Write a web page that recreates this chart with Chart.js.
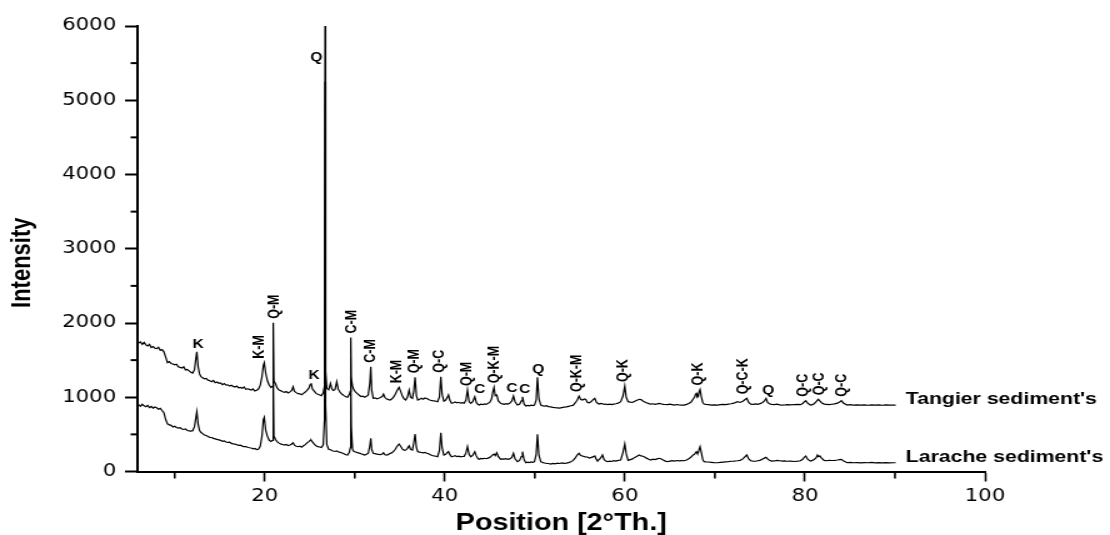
<!DOCTYPE html>
<html>
<head>
<meta charset="utf-8">
<title>XRD patterns</title>
<script src="https://cdn.jsdelivr.net/npm/chart.js@4.4.1/dist/chart.umd.min.js"></script>
<style>
  html, body { margin: 0; padding: 0; background: #fff; overflow: hidden; }
  /* the plot is laid out on a narrower canvas and widened, which gives the wide lettering */
  #frame { width: 888px; height: 535px; transform: scale(1.25, 1); transform-origin: 0 0; }
</style>
</head>
<body>
<div id="frame"><canvas id="chart" width="888" height="535"></canvas></div>
<script>
// diffraction angle (°2θ), shared by both scans
const twoTheta = [
  6.0, 6.2, 6.4, 6.6, 6.8, 7.0, 7.2, 7.4, 7.6, 7.8, 8.0, 8.2, 8.4, 8.6, 8.8, 9.0,
  9.2, 9.4, 9.6, 9.8, 10.0, 10.2, 10.4, 10.6, 10.8, 11.0, 11.2, 11.4, 11.6, 11.8, 12.0,
  12.2, 12.35, 12.46, 12.6, 12.75, 12.9, 13.1, 13.3, 13.5, 13.7, 13.9, 14.1, 14.3, 14.5, 14.7, 14.9, 15.1, 15.3, 15.5, 15.7, 15.9, 16.1, 16.3, 16.5, 16.7, 16.9, 17.1, 17.3, 17.5, 17.7, 17.9, 18.1, 18.3, 18.5, 18.7, 18.9, 19.1, 19.3,
  19.5, 19.7, 19.85, 19.95, 20.1, 20.3, 20.5, 20.7, 20.88, 20.95, 21.02,
  21.2, 21.4, 21.6, 21.8, 22.0, 22.2, 22.4, 22.6, 22.8, 23.0, 23.15, 23.3, 23.5, 23.7, 23.9, 24.1, 24.3, 24.5, 24.7, 24.9, 25.05, 25.15, 25.3, 25.5, 25.7, 25.9, 26.1, 26.3, 26.5,
  26.64, 26.7, 26.76, 26.9, 27.1, 27.3, 27.45, 27.6, 27.8, 28.0, 28.15, 28.4, 28.6, 28.8, 29.0, 29.2, 29.4,
  29.5, 29.56, 29.62, 29.75, 29.9, 30.1, 30.3, 30.5, 30.7, 30.9, 31.1, 31.3, 31.5, 31.68, 31.78, 31.88, 32.05, 32.25, 32.45, 32.65, 32.85, 33.05, 33.19, 33.35, 33.55, 33.75, 33.93,
  34.1, 34.3, 34.5, 34.7, 34.92, 35.1, 35.3, 35.5, 35.67, 35.85, 36.04, 36.2, 36.4, 36.55, 36.7, 36.85, 37.0, 37.2, 37.4, 37.6, 37.8, 38.0, 38.2, 38.4, 38.6, 38.8, 39.0, 39.2, 39.4,
  39.56, 39.7, 39.9, 40.1, 40.3, 40.41, 40.55, 40.75, 40.95, 41.15, 41.35, 41.55, 41.75, 41.95, 42.15, 42.35, 42.52, 42.7, 42.89, 43.1, 43.33, 43.5, 43.7, 43.81, 44.0, 44.2, 44.4, 44.6, 44.8, 45.0,
  45.2, 45.35, 45.47, 45.6, 45.77, 45.95, 46.2, 46.4, 46.6, 46.8, 47.0, 47.2, 47.45, 47.63, 47.8, 48.07, 48.3, 48.5, 48.63, 48.8, 49.0, 49.2, 49.4, 49.6, 49.8, 49.96, 50.15,
  50.29, 50.45, 50.66, 50.9, 51.1, 51.3, 51.5, 51.77, 52.0, 52.25, 52.5, 52.75, 53.0, 53.25, 53.5, 53.75, 54.0, 54.25, 54.45, 54.7, 54.91, 55.1, 55.29, 55.5, 55.66, 55.85, 56.05,
  56.3, 56.5, 56.66, 56.85, 56.96, 57.15, 57.35, 57.51, 57.7, 57.9, 58.07, 58.3, 58.5, 58.75, 59.0, 59.25, 59.54, 59.8, 59.99, 60.15, 60.36, 60.6, 60.85, 61.1,
  61.35, 61.58, 61.8, 62.0, 62.14, 62.4, 62.65, 62.88, 63.1, 63.35, 63.6, 63.8, 63.99, 64.25, 64.5, 64.73, 65.0, 65.25, 65.5, 65.75, 66.0, 66.3, 66.57, 66.85, 67.1,
  67.35, 67.55, 67.76, 67.85, 67.95, 68.05, 68.15, 68.25, 68.35, 68.5, 68.65, 68.79, 69.0, 69.3, 69.6, 69.9, 70.28, 70.6, 70.9, 71.2, 71.5, 71.8, 72.1, 72.5, 72.8, 73.1,
  73.35, 73.54, 73.75, 73.98, 74.25, 74.5, 74.75, 75.0, 75.25, 75.5, 75.68, 75.85, 76.05, 76.3, 76.6, 76.9, 77.2, 77.5, 77.7, 78.0, 78.4, 78.8, 79.2, 79.5,
  79.75, 79.95, 80.09, 80.3, 80.6, 80.85, 81.05, 81.25, 81.39, 81.5, 81.65, 81.85, 82.13, 82.4, 82.7, 83.0, 83.3, 83.6, 83.85, 84.05, 84.3, 84.7,
  85.0, 85.4, 85.8, 86.2, 86.6, 87.0, 87.4, 87.8, 88.2, 88.6, 89.0, 89.4, 89.8, 90.08
];

// counts, Tangier sediment (offset scan)
const tangier = [
  1730, 1745, 1712, 1738, 1705, 1690, 1712, 1670, 1684, 1660, 1655, 1672, 1630, 1642, 1612, 1540,
  1466, 1480, 1455, 1448, 1436, 1445, 1410, 1402, 1392, 1410, 1368, 1374, 1356, 1338, 1326,
  1372, 1520, 1612, 1418, 1318, 1282, 1262, 1248, 1254, 1230, 1222, 1210, 1228, 1196, 1206, 1188, 1194, 1170, 1184, 1164, 1168, 1150, 1162, 1146, 1138, 1150, 1126, 1132, 1120, 1138, 1108, 1114, 1106, 1096, 1112, 1084, 1094, 1110,
  1160, 1282, 1430, 1465, 1330, 1222, 1162, 1132, 1150, 2003, 1220,
  1182, 1122, 1096, 1086, 1074, 1066, 1078, 1058, 1072, 1092, 1141, 1078, 1062, 1048, 1046, 1034, 1052, 1070, 1092, 1122, 1170, 1190, 1110, 1082, 1052, 1040, 1030, 1022, 1060,
  1150, 6000, 1350, 1120, 1100, 1187, 1118, 1092, 1102, 1209, 1112, 1062, 1040, 1022, 1007, 1000, 1040,
  1080, 1806, 1250, 1150, 1100, 1068, 1048, 1026, 1010, 1016, 1000, 1012, 1032, 1200, 1411, 1100, 986, 992, 980, 986, 996, 1010, 1042, 996, 976, 968, 962,
  976, 1002, 1040, 1090, 1133, 1080, 1012, 976, 962, 1002, 1097, 1002, 985, 1080, 1268, 1020, 962, 972, 986, 974, 990, 984, 970, 960, 954, 950, 946, 940, 1000,
  1276, 1040, 946, 962, 1002, 1030, 962, 920, 926, 936, 924, 932, 920, 926, 918, 962, 1097, 940, 918, 940, 1007, 930, 902, 895, 906, 900, 910, 904, 918, 930,
  980, 1080, 1133, 1020, 1030, 950, 918, 910, 904, 914, 908, 918, 950, 1016, 940, 895, 906, 950, 1007, 910, 882, 890, 884, 894, 888, 895, 960,
  1268, 980, 895, 884, 880, 886, 874, 870, 864, 860, 858, 854, 860, 866, 870, 878, 886, 890, 920, 960, 1016, 970, 962, 976, 970, 930, 924,
  946, 970, 985, 930, 920, 908, 916, 912, 904, 908, 900, 906, 900, 908, 912, 920, 940, 1020, 1151, 1000, 940, 934, 930, 946,
  960, 972, 968, 950, 940, 926, 914, 908, 912, 904, 910, 916, 912, 904, 902, 900, 906, 900, 894, 902, 898, 894, 895, 904, 916,
  936, 970, 1007, 1040, 1052, 1000, 1010, 1080, 1106, 1000, 930, 908, 904, 900, 894, 898, 895, 900, 904, 902, 908, 912, 920, 940, 930, 946,
  970, 985, 930, 908, 904, 910, 904, 914, 926, 950, 985, 930, 912, 904, 900, 906, 898, 894, 896, 900, 898, 902, 904, 900,
  916, 940, 953, 920, 895, 900, 916, 940, 960, 972, 950, 926, 908, 904, 900, 906, 910, 920, 936, 953, 920, 895,
  900, 895, 898, 893, 897, 892, 896, 893, 897, 892, 896, 893, 895, 895
];

// counts, Larache sediment
const larache = [
  900, 878, 905, 884, 872, 890, 860, 876, 852, 868, 858, 838, 850, 822, 792, 700,
  642, 628, 622, 600, 610, 592, 584, 590, 572, 566, 574, 552, 548, 544, 550,
  604, 722, 805, 642, 556, 528, 510, 492, 484, 470, 460, 458, 446, 440, 432, 426, 420, 406, 412, 398, 392, 394, 378, 372, 368, 360, 352, 356, 342, 336, 334, 326, 320, 316, 306, 310, 296, 300,
  340, 480, 700, 730, 560, 472, 420, 404, 420, 1250, 480,
  430, 398, 382, 368, 364, 356, 364, 348, 356, 370, 386, 354, 340, 334, 342, 328, 346, 362, 386, 402, 418, 424, 398, 368, 346, 334, 330, 324, 358,
  700, 5250, 900, 360, 300, 292, 282, 276, 270, 278, 266, 258, 250, 240, 226, 222, 260,
  320, 1260, 600, 300, 268, 262, 254, 248, 240, 230, 222, 232, 246, 350, 447, 300, 245, 240, 234, 230, 226, 236, 252, 226, 222, 230, 245,
  250, 270, 300, 340, 370, 340, 300, 286, 289, 312, 347, 300, 289, 380, 505, 320, 267, 260, 256, 250, 256, 246, 240, 226, 216, 210, 206, 199, 280,
  522, 320, 222, 232, 256, 267, 230, 199, 205, 212, 200, 206, 198, 202, 204, 250, 334, 230, 199, 216, 267, 210, 170, 164, 176, 170, 178, 172, 180, 190,
  210, 226, 235, 214, 253, 200, 164, 170, 166, 172, 164, 170, 190, 245, 170, 132, 150, 200, 267, 160, 118, 126, 120, 130, 124, 132, 230,
  500, 220, 132, 120, 114, 110, 108, 101, 110, 104, 112, 108, 116, 110, 112, 120, 130, 150, 176, 220, 245, 216, 209, 200, 196, 195, 180,
  190, 200, 209, 160, 145, 160, 190, 222, 160, 140, 132, 140, 135, 145, 140, 150, 155, 260, 370, 240, 150, 160, 170, 190,
  205, 222, 210, 205, 199, 180, 165, 155, 165, 160, 170, 178, 172, 155, 140, 132, 140, 145, 140, 148, 142, 146, 145, 155, 170,
  195, 220, 235, 255, 267, 245, 250, 300, 334, 250, 160, 132, 130, 128, 124, 120, 118, 122, 126, 130, 132, 138, 140, 145, 150, 170,
  200, 222, 170, 145, 140, 138, 145, 150, 165, 180, 191, 170, 150, 140, 142, 150, 145, 140, 142, 138, 140, 135, 140, 145,
  165, 195, 209, 165, 140, 150, 165, 185, 222, 200, 210, 180, 150, 145, 150, 148, 150, 155, 160, 164, 140, 118,
  122, 118, 120, 116, 120, 118, 122, 117, 120, 116, 119, 117, 118, 118
];

const seriesNames = ["Tangier sediment's", "Larache sediment's"];

// phase labels over the Tangier reflections (Q quartz, K kaolinite, C calcite, M muscovite)
const peakNames = ['K', 'K-M', 'Q-M', 'K', 'Q', 'C-M', 'C-M', 'K-M', 'Q-M', 'Q-C', 'Q-M', 'C', 'Q-K-M', 'C', 'C', 'Q',
  'Q-K-M', 'Q-K', 'Q-K', 'Q-C-K', 'Q', 'Q-C', 'Q-C', 'Q-C'];
const peakAngles = [12.6, 19.46, 21.06, 25.49, 26.7, 29.67, 31.7, 34.75, 36.67, 39.44, 42.44, 43.88, 45.55, 47.44, 48.88, 50.38,
  54.66, 59.88, 68.09, 73.2, 75.92, 79.81, 81.64, 84.09];

// unlabelled minor tick positions
const minorX = [10, 30, 50, 70, 90];
const minorY = [500, 1500, 2500, 3500, 4500, 5500];

const tickFont = { family: "'DejaVu Sans', sans-serif", size: 17 };
const boldFamily = "'Liberation Sans', Arial, sans-serif";

const annotate = {
  id: 'annotate',
  afterDraw(chart) {
    const { ctx, chartArea: area, scales: { x, y } } = chart;
    ctx.save();
    ctx.strokeStyle = '#000';

    // short minor ticks
    ctx.lineWidth = 1.6;
    minorX.forEach((v) => {
      const px = x.getPixelForValue(v);
      ctx.beginPath();
      ctx.moveTo(px, area.bottom);
      ctx.lineTo(px, area.bottom + 7);
      ctx.stroke();
    });
    ctx.lineWidth = 2;
    minorY.forEach((v) => {
      const py = y.getPixelForValue(v);
      ctx.beginPath();
      ctx.moveTo(area.left, py);
      ctx.lineTo(area.left - 5.5, py);
      ctx.stroke();
    });

    // peak labels, sat just above the highest Tangier count near each one
    ctx.fillStyle = '#000';
    ctx.font = 'bold 12.5px ' + boldFamily;
    peakNames.forEach((name, i) => {
      const a = peakAngles[i];
      let top = 0;
      twoTheta.forEach((t, j) => {
        if (Math.abs(t - a) <= 0.6) top = Math.max(top, tangier[j]);
      });
      const px = x.getPixelForValue(a);
      const base = y.getPixelForValue(top) - 4;
      if (name.includes('-')) {
        ctx.save();
        ctx.translate(px, base);
        ctx.rotate(-Math.PI / 2);
        ctx.textAlign = 'left';
        ctx.textBaseline = 'middle';
        ctx.fillText(name, 0, 0);
        ctx.restore();
      } else if (base - 9 < area.top) {
        // the spike runs off the top, so the letter goes beside it
        ctx.textAlign = 'right';
        ctx.textBaseline = 'alphabetic';
        ctx.fillText(name, px - 2, area.top + 35);
      } else {
        ctx.textAlign = 'center';
        ctx.textBaseline = 'alphabetic';
        ctx.fillText(name, px, base);
      }
    });

    // sample names at the end of each scan
    ctx.font = 'bold 17px ' + boldFamily;
    ctx.textAlign = 'left';
    ctx.textBaseline = 'middle';
    [tangier, larache].forEach((vals, k) => {
      const last = vals.length - 1;
      ctx.fillText(seriesNames[k], x.getPixelForValue(twoTheta[last]) + 8, y.getPixelForValue(vals[last]) - 5.5);
    });

    // y axis title
    ctx.font = 'bold 22px ' + boldFamily;
    ctx.translate(18, (area.top + area.bottom) / 2 + 14);
    ctx.rotate(-Math.PI / 2);
    ctx.textAlign = 'center';
    ctx.textBaseline = 'middle';
    ctx.fillText('Intensity', 0, 0);
    ctx.restore();
  }
};

const scan = (vals) => twoTheta.map((t, i) => ({ x: t, y: vals[i] }));

new Chart(document.getElementById('chart'), {
  type: 'line',
  data: {
    datasets: [
      { label: seriesNames[0], data: scan(tangier), borderColor: '#000', borderWidth: 1.2, pointRadius: 0, tension: 0 },
      { label: seriesNames[1], data: scan(larache), borderColor: '#000', borderWidth: 1.2, pointRadius: 0, tension: 0 }
    ]
  },
  options: {
    responsive: false,
    animation: false,
    events: [],
    layout: { padding: { top: 26, right: 100, bottom: 0, left: 0 } },
    plugins: { legend: { display: false }, tooltip: { enabled: false } },
    scales: {
      x: {
        type: 'linear',
        min: 5.87,
        max: 100,
        border: { display: true, color: '#000', width: 2 },
        grid: { display: true, drawOnChartArea: false, drawTicks: true, tickLength: 10, tickWidth: 1.6, color: '#000', tickColor: '#000' },
        ticks: { stepSize: 20, includeBounds: false, maxRotation: 0, padding: 5, color: '#000', font: tickFont, callback: (v) => String(v) },
        title: { display: true, text: 'Position [2°Th.]', color: '#000', padding: { top: 0, bottom: 0 }, font: { family: boldFamily, size: 23, weight: 'bold', lineHeight: 1 } },
        afterFit: (scale) => { scale.height = 63.5; }
      },
      y: {
        min: 0,
        max: 6000,
        border: { display: true, color: '#000', width: 2 },
        grid: { display: true, drawOnChartArea: false, drawTicks: true, tickLength: 10, tickWidth: 2, color: '#000', tickColor: '#000' },
        ticks: { stepSize: 1000, padding: 7, color: '#000', font: tickFont, callback: (v) => String(v) },
        afterFit: (scale) => { scale.width = 110; }
      }
    }
  },
  plugins: [annotate]
});
</script>
</body>
</html>
